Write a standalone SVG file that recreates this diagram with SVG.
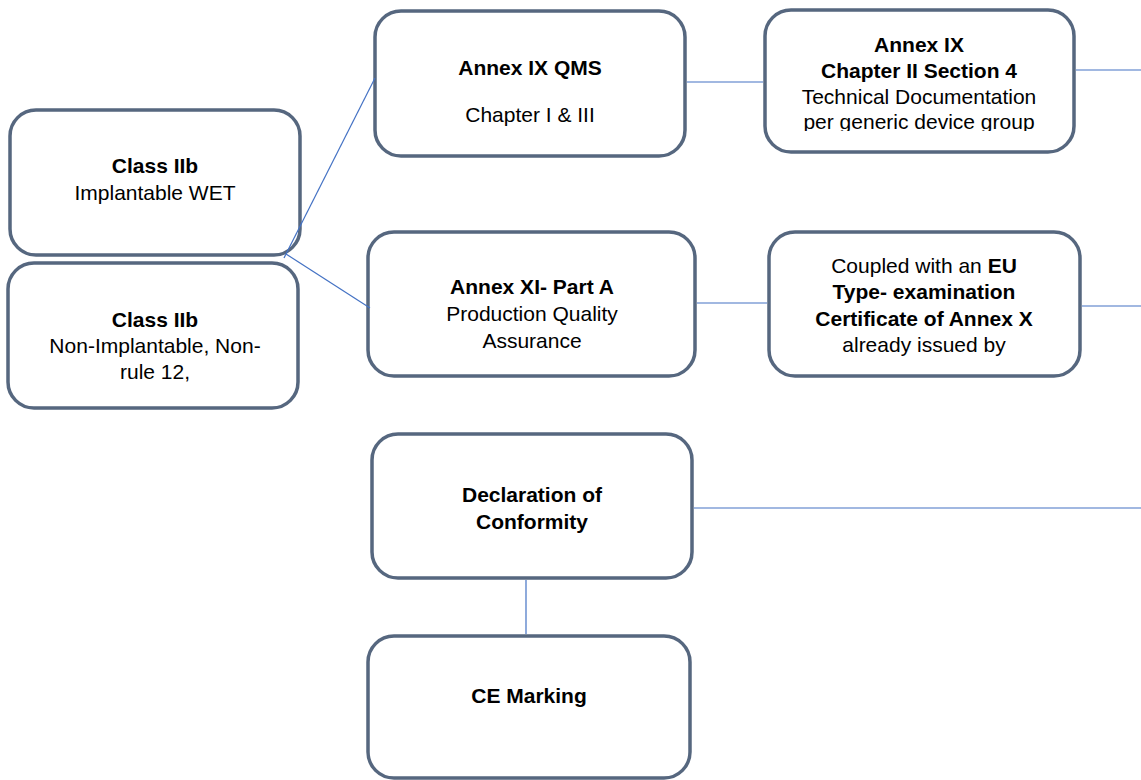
<svg xmlns="http://www.w3.org/2000/svg" width="1141" height="780" viewBox="0 0 1141 780">
<style>
.box{fill:#ffffff;stroke:#56677f;stroke-width:3.5}
.t{font-family:"Liberation Sans",Arial,sans-serif;font-size:21px;fill:#000;text-anchor:middle}
.b{font-weight:bold}
.c{stroke:#4472c4;stroke-width:1.2;fill:none}
</style>
<defs>
<clipPath id="clipTD"><rect x="765" y="10" width="309" height="121"/></clipPath>
</defs>
<rect width="1141" height="780" fill="#ffffff"/>
<g id="class-iib-implantable">
<rect class="box" x="10" y="110" width="290" height="145" rx="26"/>
<text class="t b" x="155" y="173">Class IIb</text>
<text class="t" x="155" y="200">Implantable WET</text>
</g>
<g id="class-iib-non-implantable">
<rect class="box" x="8" y="263" width="290" height="145" rx="26"/>
<text class="t b" x="155" y="327">Class IIb</text>
<text class="t" x="155" y="353">Non-Implantable, Non-</text>
<text class="t" x="155" y="379">rule 12,</text>
</g>
<g id="annex-ix-qms">
<rect class="box" x="375" y="11" width="310" height="145" rx="26"/>
<text class="t b" x="530" y="75">Annex IX QMS</text>
<text class="t" x="530" y="122">Chapter I &amp; III</text>
</g>
<g id="annex-ix-ch2">
<rect class="box" x="765" y="10" width="309" height="142" rx="26"/>
<text class="t b" x="919" y="52">Annex IX</text>
<text class="t b" x="919" y="78">Chapter II Section 4</text>
<text class="t" x="919" y="104">Technical Documentation</text>
<text class="t" x="919" y="129" clip-path="url(#clipTD)">per generic device group</text>
</g>
<g id="annex-xi-part-a">
<rect class="box" x="368" y="232" width="327" height="144" rx="26"/>
<text class="t b" x="532" y="294">Annex XI- Part A</text>
<text class="t" x="532" y="321">Production Quality</text>
<text class="t" x="532" y="348">Assurance</text>
</g>
<g id="eu-type-exam">
<rect class="box" x="769" y="232" width="311" height="144" rx="26"/>
<text class="t" x="924" y="273">Coupled with an <tspan class="b">EU</tspan></text>
<text class="t b" x="924" y="299">Type- examination</text>
<text class="t b" x="924" y="326">Certificate of Annex X</text>
<text class="t" x="924" y="352">already issued by</text>
</g>
<g id="declaration">
<rect class="box" x="372" y="434" width="320" height="144" rx="26"/>
<text class="t b" x="532" y="502">Declaration of</text>
<text class="t b" x="532" y="529">Conformity</text>
</g>
<g id="ce-marking">
<rect class="box" x="368" y="636" width="322" height="142" rx="26"/>
<text class="t b" x="529" y="703">CE Marking</text>
</g>
<g id="connectors">
<line class="c" x1="375" y1="78" x2="284" y2="258"/>
<line class="c" x1="286" y1="254" x2="370" y2="308"/>
<line class="c" x1="687" y1="82" x2="763" y2="82"/>
<line class="c" x1="1076" y1="70" x2="1141" y2="70"/>
<line class="c" x1="697" y1="303" x2="767" y2="303"/>
<line class="c" x1="1082" y1="306" x2="1141" y2="306"/>
<line class="c" x1="694" y1="508" x2="1141" y2="508"/>
<line class="c" x1="526" y1="580" x2="526" y2="634"/>
</g>
</svg>
